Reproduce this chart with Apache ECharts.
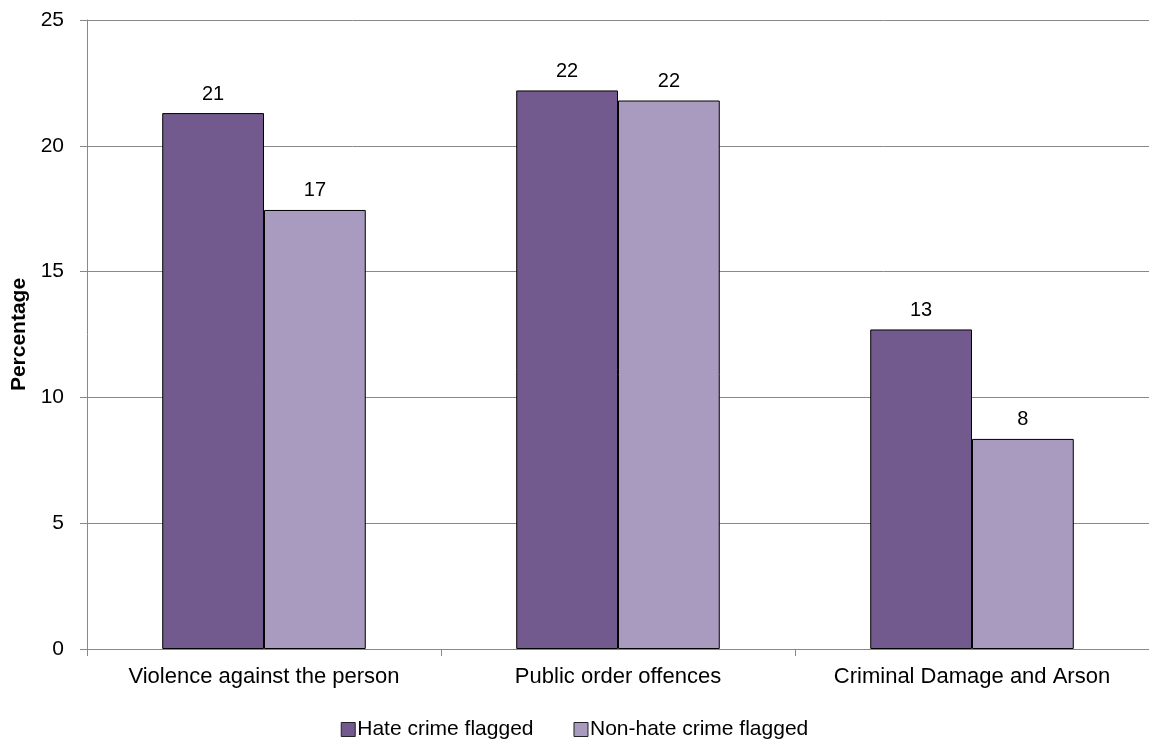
<!DOCTYPE html>
<html><head><meta charset="utf-8">
<script src="https://cdn.jsdelivr.net/npm/echarts@6/dist/echarts.min.js"></script>
<style>html,body{margin:0;padding:0;background:#fff}#c{width:1149px;height:742px}</style>
</head><body><div id="c"></div>
<script>
const categories = ['Violence against the person', 'Public order offences', 'Criminal Damage and Arson'];
const hateValues = [21.3, 22.2, 12.7];
const nonHateValues = [17.45, 21.8, 8.35];
const seriesNames = ['Hate crime flagged', 'Non-hate crime flagged'];

const chart = echarts.init(document.getElementById('c'));
const font = 'Liberation Sans, Arial, sans-serif';
const lbl = {show: true, position: 'top', distance: 9, color: '#000', fontSize: 20, fontFamily: font,
  formatter: p => Math.round(p.value)};
chart.setOption({
  animation: false,
  grid: {left: 87, right: -3, top: 20, bottom: 93, containLabel: false},
  legend: {top: 714, left: 'center', itemWidth: 14, itemHeight: 14, itemGap: 40,
    textStyle: {fontSize: 21, fontFamily: font, color: '#000', padding: [0,0,0,-3]},
    data: seriesNames.map(n => ({name: n, icon: 'rect', itemStyle: {borderColor: '#222', borderWidth: 1}}))},
  xAxis: {type: 'category', data: categories,
    axisLine: {lineStyle: {color: '#888'}},
    axisTick: {show: true, interval: 0, length: 7, lineStyle: {color: '#888'}},
    axisLabel: {interval: 0, hideOverlap: false, fontSize: 22, fontFamily: font, color: '#000', margin: 17}},
  yAxis: {type: 'value', min: 0, max: 25, interval: 5,
    name: 'Percentage', nameLocation: 'middle', nameGap: 52, nameRotate: 90,
    nameTextStyle: {fontSize: 21, fontWeight: 'bold', fontFamily: font, color: '#000'},
    axisLine: {show: true, lineStyle: {color: '#888'}},
    axisTick: {show: true, length: 7, lineStyle: {color: '#888'}},
    splitLine: {lineStyle: {color: '#888', width: 1}},
    axisLabel: {fontSize: 21, fontFamily: font, color: '#000', margin: 23}},
  series: [
    {name: seriesNames[0], type: 'bar', data: hateValues, barGap: 0, barCategoryGap: '42.5%',
     itemStyle: {color: '#725A8E', borderColor: '#000', borderWidth: 1}, label: lbl},
    {name: seriesNames[1], type: 'bar', data: nonHateValues, barGap: 0, barCategoryGap: '42.5%',
     itemStyle: {color: '#A99BBF', borderColor: '#000', borderWidth: 1}, label: lbl}
  ]
});
</script></body></html>
